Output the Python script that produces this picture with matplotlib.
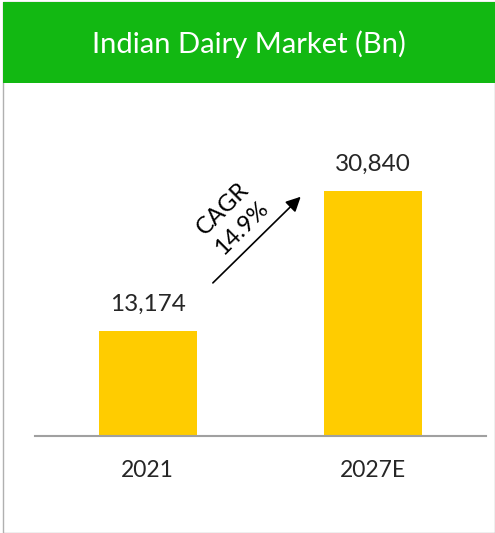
import matplotlib.pyplot as plt
from matplotlib.patches import Rectangle

years = ['2021', '2027E']
market = [13174, 30840]
value_labels = ['13,174', '30,840']
cagr_text = 'CAGR\n14.9%'

W, H = 495, 533
fig = plt.figure(figsize=(W/100, H/100), dpi=100, facecolor='white')
plt.rcParams['font.family'] = ['Lato', 'DejaVu Sans']

# outer grey frame and green header
fig.patches.append(Rectangle((3/W, 0.5/H), (W-3.5)/W, (H-2.5)/H, transform=fig.transFigure,
                             facecolor='none', edgecolor='#b0b0b0', lw=1, zorder=-1))
fig.patches.append(Rectangle((3/W, 1-83/H), (W-3)/W, 81/H, transform=fig.transFigure,
                             facecolor='#12b812', edgecolor='none', zorder=-1))
fig.text((3+W)/2/W, 1-44/H, 'Indian Dairy Market (Bn)', color='white', fontsize=21,
         ha='center', va='center')

ax = fig.add_axes([35/W, 1-436/H, 451/W, 336/H])
ax.patch.set_alpha(0)
x = range(len(years))
bars = ax.bar(x, market, width=0.435, color='#ffcc00')
ax.set_xlim(-0.5, 1.5)
ax.set_ylim(0, 336/0.00794)

for b, lab in zip(bars, value_labels):
    ax.annotate(lab, (b.get_x()+b.get_width()/2, b.get_height()), xytext=(0, 12),
                textcoords='offset points', ha='center', va='bottom',
                fontsize=17.5, color='#262626')

ax.set_xticks(list(x))
ax.set_xticklabels(years, fontsize=16.5, color='#262626')
ax.tick_params(axis='x', length=0, pad=17)
ax.set_yticks([])
for s in ['top', 'left', 'right']:
    ax.spines[s].set_visible(False)
ax.spines['bottom'].set_color('#a0a0a0')
ax.spines['bottom'].set_linewidth(1.5)

# CAGR arrow
ax.annotate('', xy=(0.687, market[1]*0.985), xytext=(0.28, market[0]*1.445),
            arrowprops=dict(arrowstyle='-|>', color='black', lw=1.2, mutation_scale=22))
ax.text(0.375, market[0]*2.08, cagr_text, rotation=45, ha='center', va='center',
        fontsize=17, color='black', linespacing=1.35, rotation_mode='anchor')

fig.savefig('out.png', dpi=100)
